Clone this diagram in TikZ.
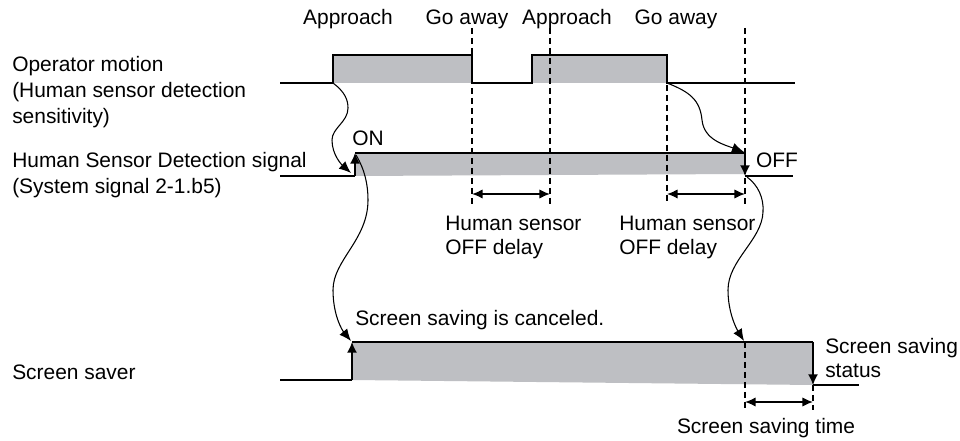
\documentclass[tikz,border=0pt]{standalone}
\usepackage{fontspec}
\setmainfont{Liberation Sans}
\usetikzlibrary{arrows.meta}
\definecolor{fillgray}{HTML}{BEBFC3}

\begin{document}
\begin{tikzpicture}[
  x=0.75pt,y=-0.75pt,line join=miter,
  font=\fontsize{15.7}{18}\selectfont,
  signal/.style={black,line width=1.2pt},
  opsignal/.style={black,line width=0.9pt},
  edge/.style={black,line width=1.2pt,-{Latex[length=8pt,width=7.5pt]}},
  cause/.style={black,line width=0.8pt,-{Latex[length=9pt,width=7.5pt]}},
  marker/.style={black,line width=1.1pt,dash pattern=on 4.5pt off 3pt},
  span/.style={black,line width=1.1pt,{Latex[length=8pt,width=7pt]}-{Latex[length=8pt,width=7pt]}},
  lbl/.style={anchor=west,align=left,inner sep=0pt},
  sidelbl/.style={lbl,font=\fontsize{15.7}{19.5}\selectfont}
]
  \useasboundingbox[fill=white] (0,0) rectangle (960,441);

  % Key points of the three signals.
  \coordinate (opRise) at (333,83);
  \coordinate (opFall) at (667,83);
  \coordinate (hsLow) at (355,176);
  \coordinate (hsHigh) at (355,153);
  \coordinate (hsOffHigh) at (745,153);
  \coordinate (hsOffLow) at (745,176);
  \coordinate (ssLow) at (352,380);
  \coordinate (ssHigh) at (352,342);
  \coordinate (ssEndHigh) at (813,342);
  \coordinate (ssEndLow) at (813,385);

  % Gray areas under the high levels.
  \fill[fillgray] (333,55) rectangle (472,83);
  \fill[fillgray] (532,55) rectangle (667,83);
  \fill[fillgray] (hsHigh) -- (hsOffHigh) -- (745,174) -- (hsLow) -- cycle;
  \fill[fillgray] (ssHigh) -- (ssEndHigh) -- (ssEndLow) -- (ssLow) -- cycle;

  % Timing markers.
  \foreach \x in {472,550,745} {
    \draw[marker] (\x,28) -- (\x,205);
  }
  \draw[marker] (667,85) -- (667,205);
  \draw[marker] (745,342) -- (745,410);
  \draw[marker] (813,385) -- (813,410);

  % Operator motion.
  \draw[opsignal] (280,83) -- (opRise) -- (333,55) -- (472,55) -- (472,83)
    -- (532,83) -- (532,55) -- (667,55) -- (opFall) -- (795,83);

  % Human sensor detection signal.
  \draw[signal] (280,176) -- (hsLow);
  \draw[edge] (hsLow) -- (hsHigh);
  \draw[signal] (hsHigh) -- (hsOffHigh);
  \draw[edge] (hsOffHigh) -- (hsOffLow);
  \draw[signal] (hsOffLow) -- (793,176);

  % Screen saver.
  \draw[signal] (280,380) -- (ssLow);
  \draw[edge] (ssLow) -- (ssHigh);
  \draw[signal] (ssHigh) -- (ssEndHigh);
  \draw[edge] (ssEndHigh) -- (ssEndLow);
  \draw[signal] (ssEndLow) -- (859,385);

  % Cause and effect.
  \draw[cause] (opRise) .. controls (345,92) and (348,100) .. (348,108)
    .. controls (348,122) and (332,128) .. (332,140)
    .. controls (332,155) and (342,165) .. (351,173);
  \draw[cause] (356,155) .. controls (365,170) and (368,185) .. (368,200)
    .. controls (368,240) and (333,260) .. (333,290)
    .. controls (333,315) and (342,330) .. (351,341);
  \draw[cause] (opFall) .. controls (690,92) and (700,100) .. (702,120)
    .. controls (704,140) and (725,145) .. (744,152);
  \draw[cause] (747,177) .. controls (758,185) and (764,198) .. (763,212)
    .. controls (762,240) and (728,260) .. (728,290)
    .. controls (728,312) and (736,328) .. (744,341);

  % Delay spans.
  \coordinate (delayA1) at (472,194);
  \coordinate (delayA2) at (550,194);
  \coordinate (delayB1) at (667,194);
  \coordinate (delayB2) at (745,194);
  \coordinate (saveT1) at (745,402);
  \coordinate (saveT2) at (813,402);
  \draw[span] (delayA1) -- (delayA2);
  \draw[span] (delayB1) -- (delayB2);
  \draw[span] (saveT1) -- (saveT2);

  % Labels.
  \node (approachA) at (348,19) {Approach};
  \node (goawayA) at (467,19) {Go away};
  \node (approachB) at (567,19) {Approach};
  \node (goawayB) at (676,19) {Go away};
  \node[sidelbl] (opLabel) at (12,92) {Operator motion\\(Human sensor detection\\sensitivity)};
  \node[sidelbl] (hsLabel) at (12,175) {Human Sensor Detection signal\\(System signal 2-1.b5)};
  \node[sidelbl] (ssLabel) at (12,372) {Screen saver};
  \node (onLabel) at (368,138) {ON};
  \node (offLabel) at (777,160) {OFF};
  \node[lbl] (delayLabelA) at (445,237) {Human sensor\\OFF delay};
  \node[lbl] (delayLabelB) at (619,237) {Human sensor\\OFF delay};
  \node[lbl] (cancelLabel) at (355,320) {Screen saving is canceled.};
  \node[lbl] (statusLabel) at (825,358) {Screen saving\\status};
  \node (timeLabel) at (766,428) {Screen saving time};
\end{tikzpicture}
\end{document}
